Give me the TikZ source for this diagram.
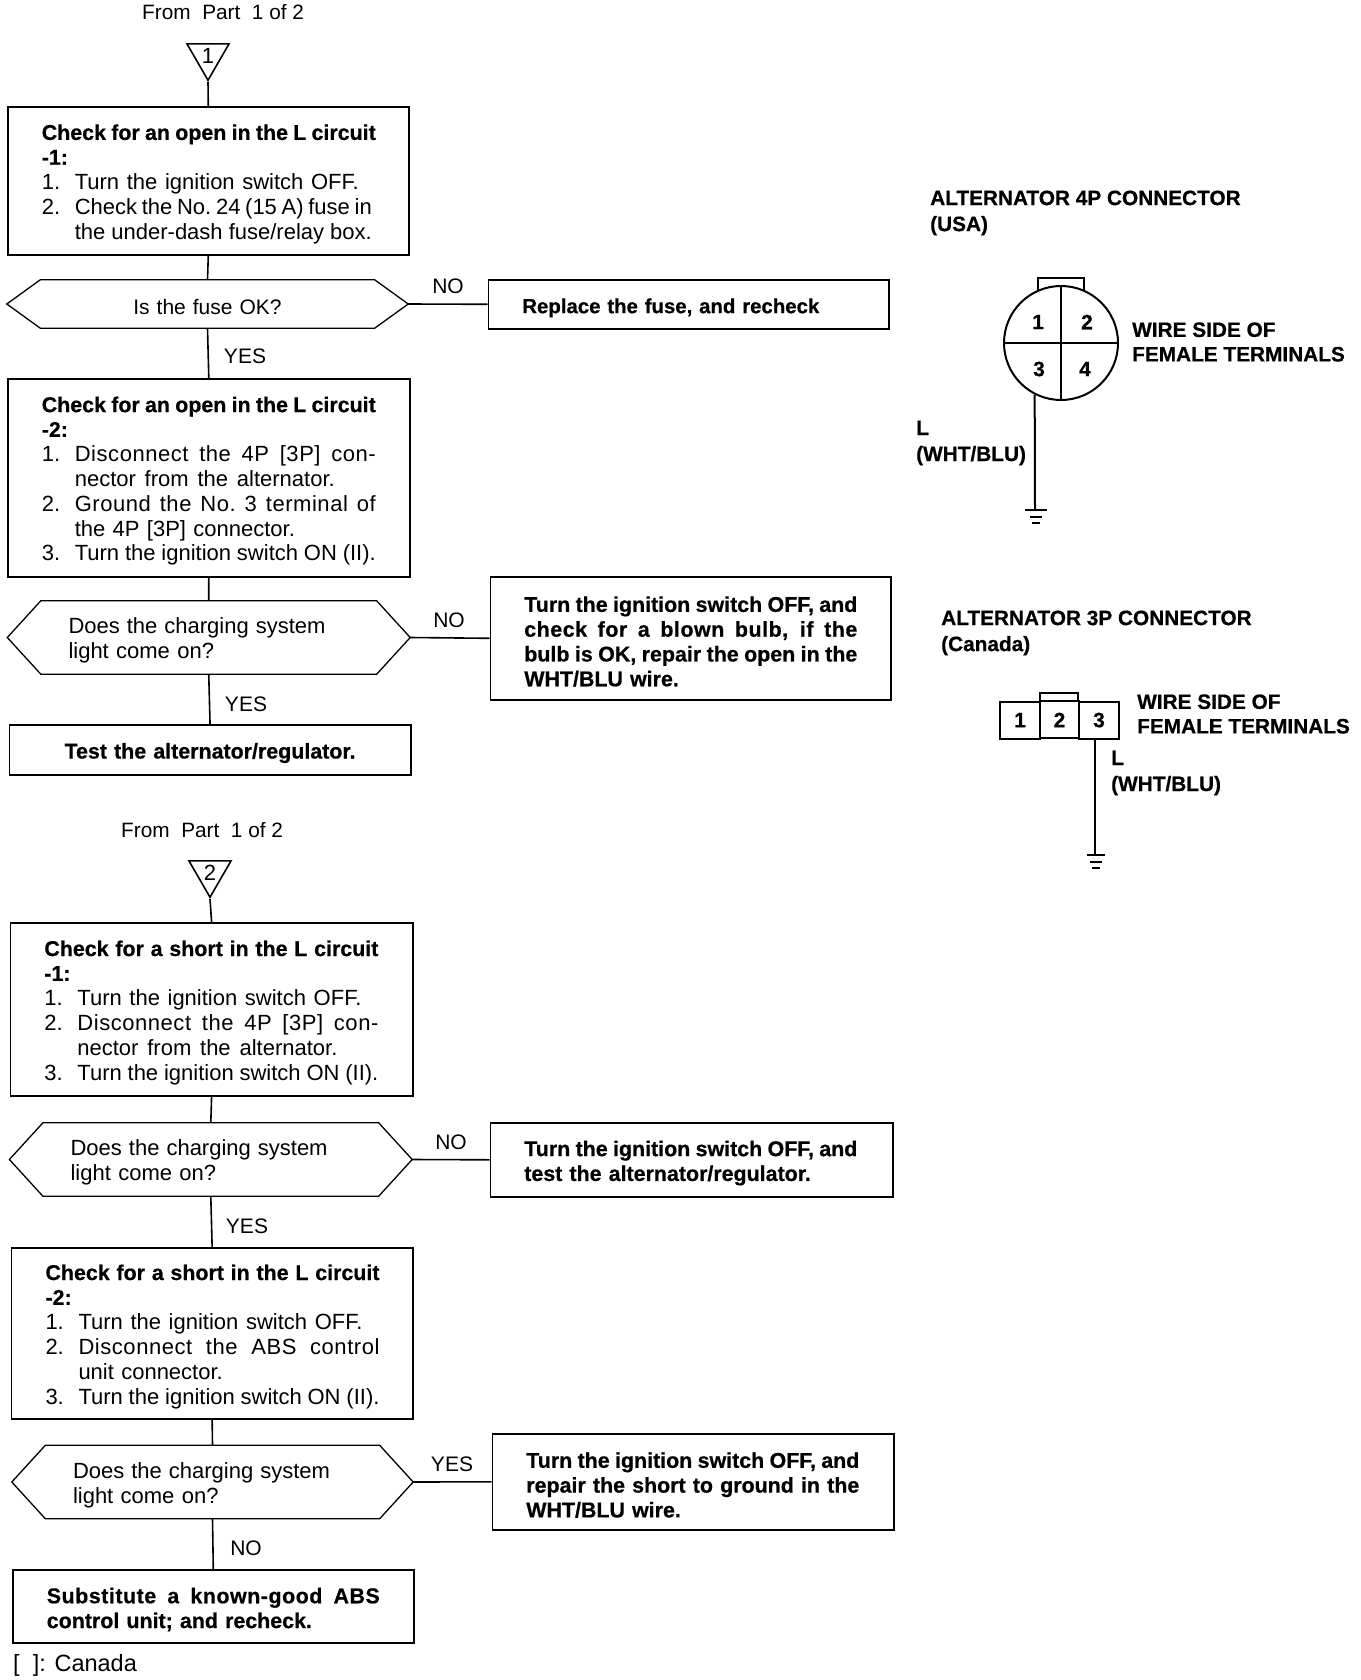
\documentclass[tikz,border=0pt]{standalone}
\usepackage{fontspec}
\setmainfont{Liberation Sans}[BoldFeatures={FakeBold=0.6}]
\usetikzlibrary{matrix,shapes.geometric}

\newcommand{\fitline}[2]{\makebox[#1][s]{\spaceskip=.278em plus 1fil minus .1em\xspaceskip=\spaceskip #2}}
\newcommand{\fitwide}[2]{\fitline{#1}{\addfontfeature{LetterSpace=2.5}#2}}
\newcommand{\stepitem}[2]{\makebox[33pt][l]{#1}\mbox{#2}}
\newcommand{\heavy}{\fontsize{21.4}{24.8}\selectfont\bfseries}
\newcommand{\stephead}[1]{\fitline{334pt}{\heavy #1}}

\tikzset{
  x=1pt, y=-1pt,
  every node/.style={font=\fontsize{22}{24.8}\selectfont},
  link/.style={line width=1.6pt},
  thing/.style={draw, line width=1.6pt, rectangle, anchor=north west, align=left,
    inner xsep=34pt, inner ysep=0pt, text width=#1-68, minimum width=#1,
    execute at begin node={\rule{0pt}{22pt}}},
  thing/.default=401,
  result/.style={thing=#1, font=\heavy, execute at begin node={\rule{0pt}{20pt}}},
  result/.default=401,
  ask/.style={rectangle, inner xsep=61pt, inner ysep=0pt, align=left, text width=#1-122,
    minimum width=#1, execute at begin node={\rule{0pt}{22pt}},
    append after command={\pgfextra{\let\hexnode\tikzlastnode
      \draw[line width=1.3pt] (\hexnode.west) -- ([xshift=33.5pt]\hexnode.north west)
        -- ([xshift=-33.5pt]\hexnode.north east) -- (\hexnode.east)
        -- ([xshift=-33.5pt]\hexnode.south east) -- ([xshift=33.5pt]\hexnode.south west) -- cycle;}}},
  tri/.style={draw, line width=1.6pt, regular polygon, regular polygon sides=3,
    shape border rotate=180, minimum size=48.5pt, inner sep=0pt},
  answer/.style={inner sep=0pt, font=\fontsize{21}{24.8}\selectfont},
  plain/.style={anchor=west, inner sep=0pt, align=left, font=\fontsize{20.8}{24.8}\selectfont},
  tag/.style={anchor=west, inner sep=0pt, align=left, font=\fontsize{20.8}{26}\selectfont\bfseries},
  wire/.style={line width=2pt},
}

\begin{document}
\begin{tikzpicture}
  \useasboundingbox (0,0) rectangle (1360,1680);
  \node[plain] (from1) at (142,12) {From\ \ Part\ \ 1 of 2};
  \node[tri] (tri1) at (208,56) {1};

  \node[thing, minimum height=148] (open1) at (7,106) {%
    \stephead{Check for an open in the L circuit}\\
    \textbf{\heavy -1:}\\
    \stepitem{1.}{\fitline{284pt}{Turn the ignition switch OFF.}}\\
    \stepitem{2.}{\fitline{297pt}{Check the No. 24 (15 A) fuse in}}\\
    \stepitem{}{\fitline{297pt}{the under-dash fuse/relay box.}}};

  \node[ask=401, minimum height=48, align=center, font=\fontsize{21}{24.8}\selectfont] (fuse) at (207.5,304) {Is the fuse OK?};
  \node[result=400.5, minimum height=49, font=\fontsize{20.4}{24.8}\selectfont\bfseries] (replace) at (487.5,279) {Replace the fuse, and recheck};
  \node[answer] (no1) at (448,286) {NO};
  \node[answer] (yes1) at (245,356) {YES};

  \node[thing=402, minimum height=198] (open2) at (7,378) {%
    \stephead{Check for an open in the L circuit}\\
    \textbf{\heavy -2:}\\
    \stepitem{1.}{\fitwide{301pt}{Disconnect the 4P [3P] con-}}\\
    \stepitem{}{\fitline{260pt}{nector from the alternator.}}\\
    \stepitem{2.}{\fitwide{301pt}{Ground the No. 3 terminal of}}\\
    \stepitem{}{the 4P [3P] connector.}\\
    \stepitem{3.}{\fitline{301pt}{Turn the ignition switch ON (II).}}};

  \node[ask=402.5, minimum height=73] (light1) at (208.75,637.5) {\fitline{257pt}{Does the charging system}\\light come on?};
  \node[result=400.5, minimum height=123] (blown) at (489.5,576) {%
    \fitline{333pt}{Turn the ignition switch OFF, and}\\
    \fitwide{333pt}{check for a blown bulb, if the}\\
    \fitline{333pt}{bulb is OK, repair the open in the}\\
    WHT/BLU wire.};
  \node[answer] (no2) at (449,620) {NO};
  \node[answer] (yes2) at (246,704) {YES};
  \node[result=401.5, minimum height=50, align=center] (testalt) at (8.5,724) {Test the alternator/regulator.};

  \node[plain] (from2) at (121,830) {From\ \ Part\ \ 1 of 2};
  \node[tri] (tri2) at (210,873) {2};

  \node[thing=402.4, minimum height=173] (short1) at (9.6,922) {%
    \stephead{Check for a short in the L circuit}\\
    \textbf{\heavy -1:}\\
    \stepitem{1.}{\fitline{284pt}{Turn the ignition switch OFF.}}\\
    \stepitem{2.}{\fitwide{301pt}{Disconnect the 4P [3P] con-}}\\
    \stepitem{}{\fitline{260pt}{nector from the alternator.}}\\
    \stepitem{3.}{\fitline{301pt}{Turn the ignition switch ON (II).}}};

  \node[ask=402.4, minimum height=73] (light2) at (210.8,1159.5) {\fitline{257pt}{Does the charging system}\\light come on?};
  \node[result=402.5, minimum height=74] (offalt) at (489.5,1122) {%
    \fitline{333pt}{Turn the ignition switch OFF, and}\\
    test the alternator/regulator.};
  \node[answer] (no3) at (451,1142) {NO};
  \node[answer] (yes3) at (247,1226) {YES};

  \node[thing=401.3, minimum height=171] (short2) at (10.7,1247) {%
    \stephead{Check for a short in the L circuit}\\
    \textbf{\heavy -2:}\\
    \stepitem{1.}{\fitline{284pt}{Turn the ignition switch OFF.}}\\
    \stepitem{2.}{\fitwide{301pt}{Disconnect the ABS control}}\\
    \stepitem{}{unit connector.}\\
    \stepitem{3.}{\fitline{301pt}{Turn the ignition switch ON (II).}}};

  \node[ask=401, minimum height=73] (light3) at (212.5,1482) {\fitline{257pt}{Does the charging system}\\light come on?};
  \node[result=401.5, minimum height=96] (ground) at (491.5,1433) {%
    \fitline{333pt}{Turn the ignition switch OFF, and}\\
    \fitline{333pt}{repair the short to ground in the}\\
    WHT/BLU wire.};
  \node[answer] (yes4) at (452,1464) {YES};
  \node[answer] (no4) at (246,1548) {NO};
  \node[result, minimum height=73] (subst) at (12,1569) {%
    \fitwide{333pt}{Substitute a known-good ABS}\\
    control unit; and recheck.};
  \node[plain, font=\fontsize{23.5}{24.8}\selectfont] (canada) at (13,1665) {[\ \ ]: Canada};

  % flow
  \draw[link] (tri1.corner 1) -- (open1.north);
  \draw[link] (open1.south) -- (fuse.north);
  \draw[link] (fuse.east) -- (replace.west);
  \draw[link] (fuse.south) -- (open2.north);
  \draw[link] (open2.south) -- (light1.north);
  \draw[link] (light1.east) -- (blown.west);
  \draw[link] (light1.south) -- (testalt.north);
  \draw[link] (tri2.corner 1) -- (short1.north);
  \draw[link] (short1.south) -- (light2.north);
  \draw[link] (light2.east) -- (offalt.west);
  \draw[link] (light2.south) -- (short2.north);
  \draw[link] (short2.south) -- (light3.north);
  \draw[link] (light3.east) -- (ground.west);
  \draw[link] (light3.south) -- (subst.north);

  % 4P connector
  \node[tag] (title4) at (930,213) {ALTERNATOR 4P CONNECTOR\\(USA)};
  \node[draw, circle, line width=2pt, minimum size=114, inner sep=0pt] (conn4) at (1061,343) {};
  \draw[wire] (1038,291) -- (1038,278) -- (1084,278) -- (1084,291);
  \draw[link] (conn4.north) -- (conn4.south);
  \draw[link] (conn4.west) -- (conn4.east);
  \node[tag, anchor=center] (pin41) at (1038,322) {1};
  \node[tag, anchor=center] (pin42) at (1087,322) {2};
  \node[tag, anchor=center] (pin43) at (1039,369) {3};
  \node[tag, anchor=center] (pin44) at (1085,369) {4};
  \node[tag] (side4) at (1132,342) {WIRE SIDE OF\\[-1.5pt]FEMALE TERMINALS};
  \node[tag] (wire4) at (916,443) {L\\(WHT/BLU)};
  \coordinate (gnd4) at (1035,510);
  \draw[wire] (conn4.243) -- (gnd4);
  \draw[wire] (1025,510) -- (1047,510) (1030,517) -- (1042,517) (1032,523) -- (1040,523);

  % 3P connector
  \node[tag] (title3) at (941,633) {ALTERNATOR 3P CONNECTOR\\(Canada)};
  \matrix (conn3) [matrix of nodes, anchor=center, column sep=-2pt,
    nodes={draw, line width=2pt, outer sep=0pt, minimum width=39.5, minimum height=37, inner sep=0pt,
      font=\fontsize{20.8}{26}\selectfont\bfseries}] at (1059.5,720)
  {
    1 & 2 & 3 \\
  };
  \draw[wire] (1040,701) -- (1040,693) -- (1078,693) -- (1078,701);
  \node[tag] (side3) at (1137,714) {WIRE SIDE OF\\[-1.5pt]FEMALE TERMINALS};
  \node[tag] (wire3) at (1111,773) {L\\(WHT/BLU)};
  \coordinate (gnd3) at (1095,855);
  \draw[wire] (gnd3 |- conn3-1-3.south) -- (gnd3);
  \draw[wire] (1087,855) -- (1105,855) (1090,862) -- (1102,862) (1092,868) -- (1100,868);
\end{tikzpicture}
\end{document}
